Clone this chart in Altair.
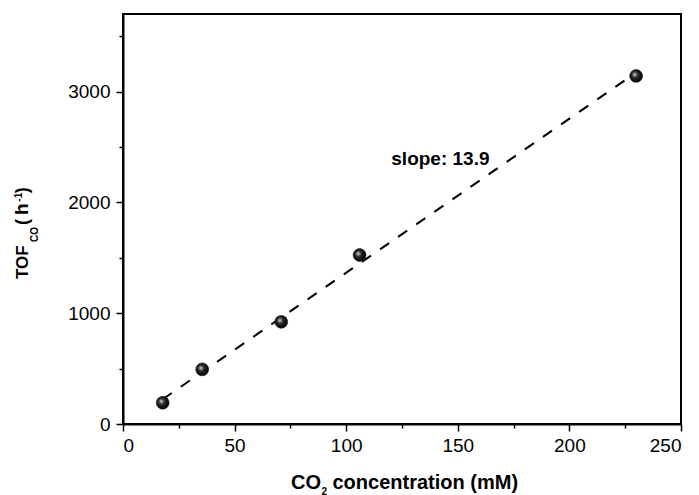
import altair as alt
import pandas as pd

# ---- data ----
co2_mM = [17.8, 35.5, 70.9, 106.0, 229.9]
tof_co = [192, 493, 922, 1525, 3141]
fit_x = [17.8, 229.9]
fit_y = [223, 3171]
slope_label = "slope: 13.9"
slope_pos_x = [120.2]
slope_pos_y = [2337]
x_ticks = [0, 25, 50, 75, 100, 125, 150, 175, 200, 225, 250]
y_ticks = [0, 500, 1000, 1500, 2000, 2500, 3000, 3500]

W, H = 558, 410
FONT = "Liberation Sans"

pts = pd.DataFrame({"x": co2_mM, "y": tof_co})
fit = pd.DataFrame({"x": fit_x, "y": fit_y})
lab = pd.DataFrame({"x": slope_pos_x, "y": slope_pos_y, "t": [slope_label]})

xscale = alt.Scale(domain=[0, 250], nice=False, zero=False)
yscale = alt.Scale(domain=[0, 3700], nice=False, zero=False)

xaxis = alt.Axis(
    values=x_ticks, title=None, grid=False, format="d",
    labelExpr="datum.value % 50 === 0 ? datum.label : ''",
    tickSize={"condition": {"test": "datum.value % 50 === 0", "value": 7}, "value": 4},
    labelPadding=5,
)
yaxis = alt.Axis(
    values=y_ticks, title=None, grid=False, format="d",
    labelExpr="datum.value % 1000 === 0 ? datum.label : ''",
    tickSize={"condition": {"test": "datum.value % 1000 === 0", "value": 7}, "value": 4},
    labelPadding=6,
)

line = alt.Chart(fit).mark_line(
    color="black", strokeWidth=2, strokeDash=[11, 11]
).encode(
    x=alt.X("x:Q", scale=xscale, axis=xaxis),
    y=alt.Y("y:Q", scale=yscale, axis=yaxis),
)

grad = {
    "gradient": "radial",
    "x1": 0.38, "y1": 0.38, "r1": 0,
    "x2": 0.45, "y2": 0.45, "r2": 0.6,
    "stops": [
        {"offset": 0, "color": "#f4f4f4"},
        {"offset": 0.16, "color": "#8a8a8a"},
        {"offset": 0.42, "color": "#262626"},
        {"offset": 1, "color": "#000000"},
    ],
}

points = alt.Chart(pts).mark_point(
    filled=True, shape="circle", size=165, fill=grad, opacity=1,
    stroke="#111111", strokeWidth=0.6,
).encode(x="x:Q", y="y:Q")

slope_txt = alt.Chart(lab).mark_text(
    align="left", baseline="alphabetic", font=FONT, fontSize=19,
    fontWeight="bold", color="black",
).encode(x="x:Q", y="y:Q", text="t:N")


def piece(txt, px, py, size, angle=0):
    kw = dict(text=txt, align="left", baseline="alphabetic", font=FONT,
              fontSize=size, fontWeight="bold", color="black")
    if angle:
        kw["angle"] = angle
    return alt.Chart(pd.DataFrame({"t": [txt]})).mark_text(**kw).encode(
        x=alt.value(px), y=alt.value(py)
    )


# x-axis title: CO2 concentration (mM)
xt = [
    piece("CO", 168, 475, 20),
    piece("2", 198.5, 480.5, 10),
    piece("concentration (mM)", 209.5, 475, 20),
]
# y-axis title: TOF_CO (h^-1)
yt = [
    piece("TOF", -94.7, 265, 17, 270),
    piece("CO", -84.7, 228, 10, 270),
    piece("(", -94.7, 211, 18, 270),
    piece("h", -94.7, 201, 19, 270),
    piece("-1", -101.3, 187.7, 10, 270),
    piece(")", -94.7, 179.3, 18, 270),
]

chart = alt.layer(line, points, slope_txt, *xt, *yt).properties(
    width=W, height=H,
    padding={"left": 123, "top": 14, "right": 18, "bottom": 71},
    autosize=alt.AutoSizeParams(type="none"),
    background="white",
).configure_view(
    stroke="black", strokeWidth=2
).configure_axis(
    domainColor="black", domainWidth=2, tickColor="black", tickWidth=1.5,
    labelFont=FONT, labelFontSize=19, labelColor="black",
)

chart.save("out.html", embed_options={"renderer": "svg", "actions": False})
